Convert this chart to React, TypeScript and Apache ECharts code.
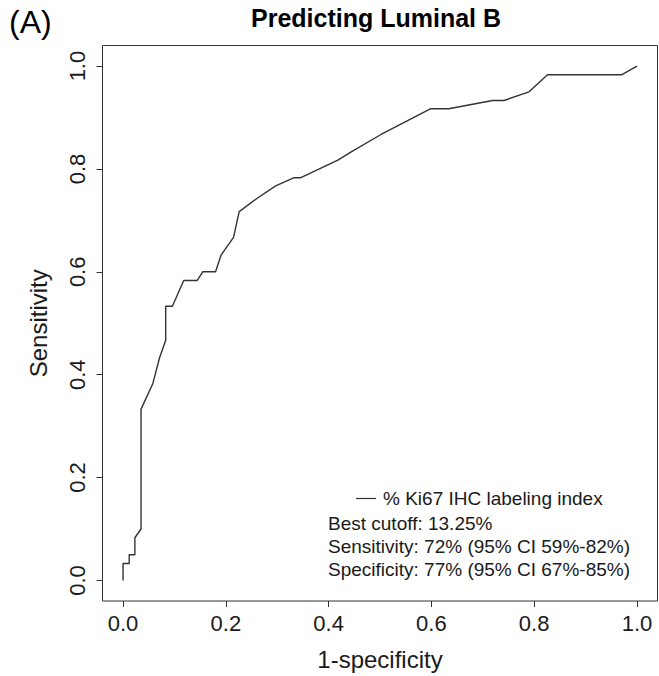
import React, { useEffect, useRef } from "react";
import * as echarts from "echarts";

// ROC curve points (1-specificity, sensitivity)
const fpr = [0, 0, 0.012, 0.012, 0.023, 0.023, 0.035, 0.035, 0.058, 0.071, 0.083, 0.083, 0.096, 0.118, 0.144, 0.155, 0.18, 0.191, 0.215, 0.226, 0.261, 0.297, 0.333, 0.346, 0.418, 0.444, 0.502, 0.598, 0.634, 0.719, 0.741, 0.79, 0.826, 0.97, 1.0];
const tpr = [0, 0.033, 0.033, 0.05, 0.05, 0.083, 0.1, 0.333, 0.383, 0.433, 0.467, 0.533, 0.533, 0.583, 0.583, 0.6, 0.6, 0.633, 0.667, 0.717, 0.743, 0.767, 0.783, 0.783, 0.817, 0.833, 0.867, 0.917, 0.917, 0.933, 0.933, 0.95, 0.983, 0.983, 1.0];

const tickValues = [0, 0.2, 0.4, 0.6, 0.8, 1.0];
const tickLabels = ["0.0", "0.2", "0.4", "0.6", "0.8", "1.0"];
const seriesName = "% Ki67 IHC labeling index";
const statLines = [
  "Best cutoff: 13.25%",
  "Sensitivity: 72% (95% CI 59%-82%)",
  "Specificity: 77% (95% CI 67%-85%)",
];
const titleText = "Predicting Luminal B";
const panelLabel = "(A)";
const xName = "1-specificity";
const yName = "Sensitivity";

const FONT = "Liberation Sans, Arial, sans-serif";
const TXT = "#1a1a1a";

function labelFor(v: number) {
  const i = tickValues.findIndex((t) => Math.abs(t - v) < 1e-9);
  return i >= 0 ? tickLabels[i] : "";
}

export default function App() {
  const ref = useRef<HTMLDivElement>(null);
  useEffect(() => {
    const chart = echarts.init(ref.current!, null, { renderer: "svg" });
    const axisCommon = {
      type: "value",
      min: -0.04,
      max: 1.04,
      axisLine: { show: false, onZero: false },
      splitLine: { show: false },
      axisTick: {
        show: true,
        customValues: tickValues,
        length: 6,
        inside: false,
        lineStyle: { color: "#333", width: 1 },
      },
      nameLocation: "middle",
      nameTextStyle: { fontFamily: FONT, fontSize: 24, color: TXT },
    };
    chart.setOption({
      animation: false,
      grid: {
        left: 102.5,
        top: 45.5,
        width: 555,
        height: 556.5,
        show: true,
        borderColor: "#333",
        borderWidth: 1,
        containLabel: false,
      },
      xAxis: {
        ...axisCommon,
        position: "bottom",
        name: xName,
        nameGap: 46,
        axisLabel: {
          customValues: tickValues,
          formatter: (v: number) => labelFor(v),
          fontFamily: FONT,
          fontSize: 22,
          color: TXT,
          margin: 11,
        },
      },
      yAxis: {
        ...axisCommon,
        position: "left",
        name: yName,
        nameGap: 52,
        nameRotate: 90,
        axisLabel: {
          customValues: tickValues,
          formatter: (v: number) => labelFor(v),
          fontFamily: FONT,
          fontSize: 22,
          color: TXT,
          rotate: 90,
          margin: 14,
        },
      },
      legend: {
        data: [{ name: seriesName, icon: "rect" }],
        left: 351,
        top: 484,
        itemWidth: 20,
        itemHeight: 1.2,
        textStyle: {
          fontFamily: FONT,
          fontSize: 19,
          color: TXT,
          padding: [0, 0, 0, 2],
        },
      },
      graphic: [
        {
          type: "text",
          x: 376,
          y: 18,
          style: {
            text: titleText,
            font: `bold 25px ${FONT}`,
            fill: "#000",
            textAlign: "center",
            textVerticalAlign: "middle",
          },
        },
        {
          type: "text",
          x: 9,
          y: 22,
          style: {
            text: panelLabel,
            font: `32px ${FONT}`,
            fill: "#000",
            textAlign: "left",
            textVerticalAlign: "middle",
          },
        },
        ...statLines.map((t, i) => ({
          type: "text",
          x: 328,
          y: 523 + i * 23,
          style: {
            text: t,
            font: `19px ${FONT}`,
            fill: TXT,
            textAlign: "left",
            textVerticalAlign: "middle",
          },
        })),
      ],
      series: [
        {
          name: seriesName,
          type: "line",
          data: fpr.map((x, i) => [x, tpr[i]]),
          showSymbol: false,
          symbol: "none",
          color: "#333",
          lineStyle: { color: "#333", width: 1.4 },
        },
      ],
    });
    return () => chart.dispose();
  }, []);
  return (
    <div
      ref={ref}
      style={{ position: "absolute", left: 0, top: 0, width: 659, height: 676, background: "#fff" }}
    />
  );
}
